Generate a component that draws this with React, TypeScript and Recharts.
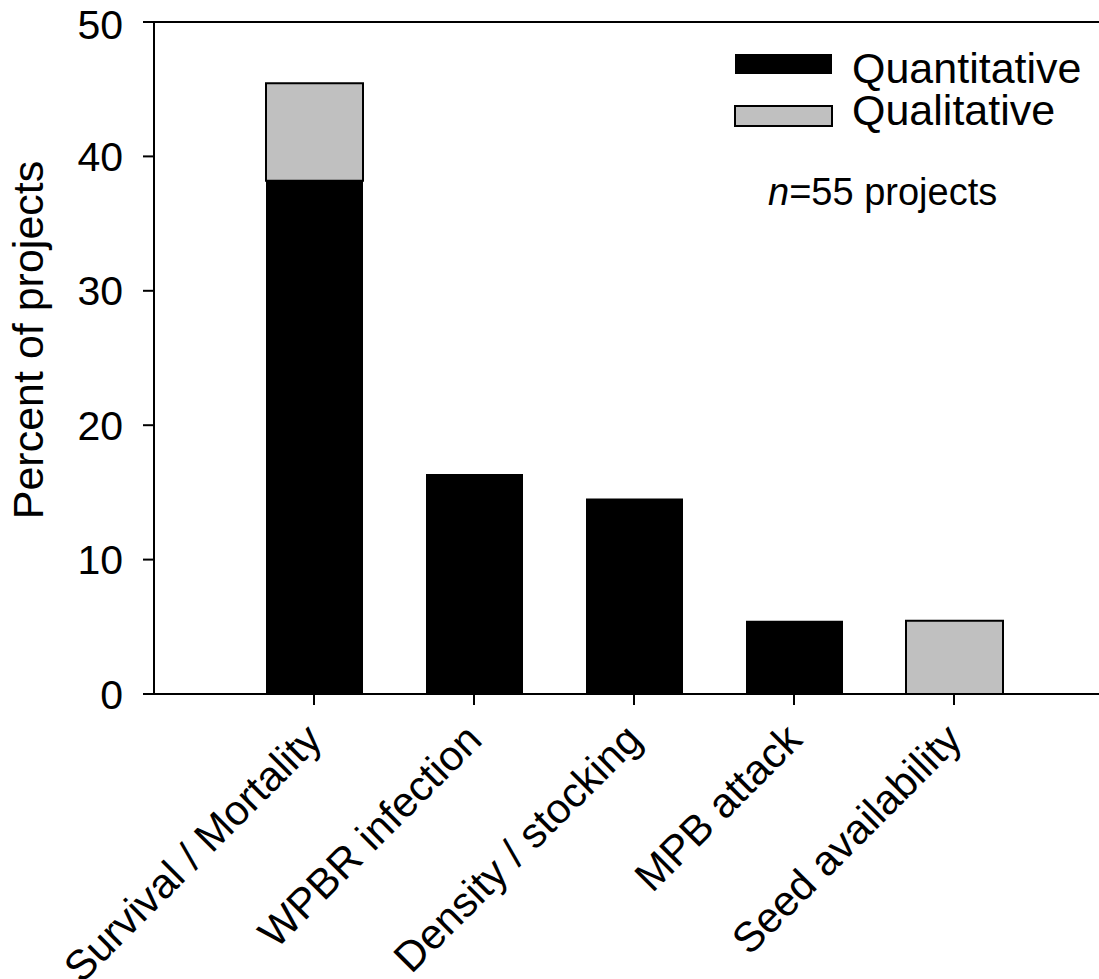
import { BarChart, Bar, XAxis, YAxis, Legend, ReferenceLine } from "recharts";

const categories = [
  "Survival / Mortality",
  "WPBR infection",
  "Density / stocking",
  "MPB attack",
  "Seed availability",
];
const positions = [1, 2, 3, 4, 5];
const quantitative = [38.18, 16.36, 14.55, 5.45, 0];
const qualitative = [7.27, 0, 0, 0, 5.45];
const yTicks = [0, 10, 20, 30, 40, 50];
const seriesOrder = ["Quantitative", "Qualitative"];

const data = categories.map((name, i) => ({
  name,
  pos: positions[i],
  Quantitative: quantitative[i],
  Qualitative: qualitative[i],
}));

const FONT = "'Liberation Sans', Arial, sans-serif";

function XTick({ x, y, payload }: any) {
  const label = categories[positions.indexOf(payload.value)] ?? "";
  return (
    <g transform={`translate(${x + 10},${y + 37})`}>
      <text
        textAnchor="end"
        transform="rotate(-45)"
        fontSize={42}
        fontFamily={FONT}
        fill="#000"
      >
        {label}
      </text>
    </g>
  );
}

function YLabel() {
  return (
    <text
      transform="translate(43,340) rotate(-90)"
      textAnchor="middle"
      fontSize={43}
      fontFamily={FONT}
      fill="#000"
    >
      Percent of projects
    </text>
  );
}

function LegendBox({ payload }: any) {
  const items = [...(payload ?? [])].sort(
    (a: any, b: any) => seriesOrder.indexOf(a.value) - seriesOrder.indexOf(b.value)
  );
  const rows = [
    { rectY: 54, textY: 83 },
    { rectY: 106, textY: 125 },
  ];
  return (
    <svg width={1120} height={240} style={{ overflow: "visible" }}>
      {items.map((item: any, i: number) => (
        <g key={item.value}>
          <rect
            x={735}
            y={rows[i].rectY}
            width={97}
            height={20}
            fill={item.color}
            stroke="#000"
            strokeWidth={item.value === "Qualitative" ? 2 : 0}
          />
          <text x={852} y={rows[i].textY} fontSize={43} fontFamily={FONT} fill="#000">
            {item.value}
          </text>
        </g>
      ))}
      <text x={768} y={205} fontSize={38} fontFamily={FONT} fill="#000">
        <tspan fontStyle="italic">n</tspan>=55 projects
      </text>
    </svg>
  );
}

export default function App() {
  return (
    <div
      style={{
        position: "absolute",
        left: 0,
        top: 0,
        width: 1099,
        height: 979,
        overflow: "hidden",
        background: "#fff",
      }}
    >
      <BarChart
        width={1120}
        height={979}
        data={data}
        margin={{ top: 22, right: 6, left: 0, bottom: 0 }}
      >
        <XAxis
          dataKey="pos"
          type="number"
          domain={[0, 6]}
          ticks={positions}
          height={285}
          tickSize={11}
          tickMargin={0}
          tick={<XTick />}
          axisLine={{ stroke: "#000", strokeWidth: 2 }}
          tickLine={{ stroke: "#000", strokeWidth: 2 }}
          interval={0}
        />
        <YAxis
          domain={[0, 50]}
          ticks={yTicks}
          width={154}
          tickSize={11}
          tickMargin={20}
          tick={{ fontSize: 41, fontFamily: FONT, fill: "#000" }}
          axisLine={{ stroke: "#000", strokeWidth: 2 }}
          tickLine={{ stroke: "#000", strokeWidth: 2 }}
          label={<YLabel />}
        />
        <ReferenceLine y={50} stroke="#000" strokeWidth={2} />
        <Legend
          content={<LegendBox />}
          wrapperStyle={{
            position: "absolute",
            left: 0,
            top: 0,
            width: 0,
            height: 0,
            overflow: "visible",
          }}
        />
        <Bar
          dataKey="Quantitative"
          stackId="a"
          fill="#000"
          barSize={97}
          isAnimationActive={false}
        />
        <Bar
          dataKey="Qualitative"
          stackId="a"
          fill="#c0c0c0"
          stroke="#000"
          strokeWidth={2}
          barSize={97}
          isAnimationActive={false}
        />
      </BarChart>
    </div>
  );
}
